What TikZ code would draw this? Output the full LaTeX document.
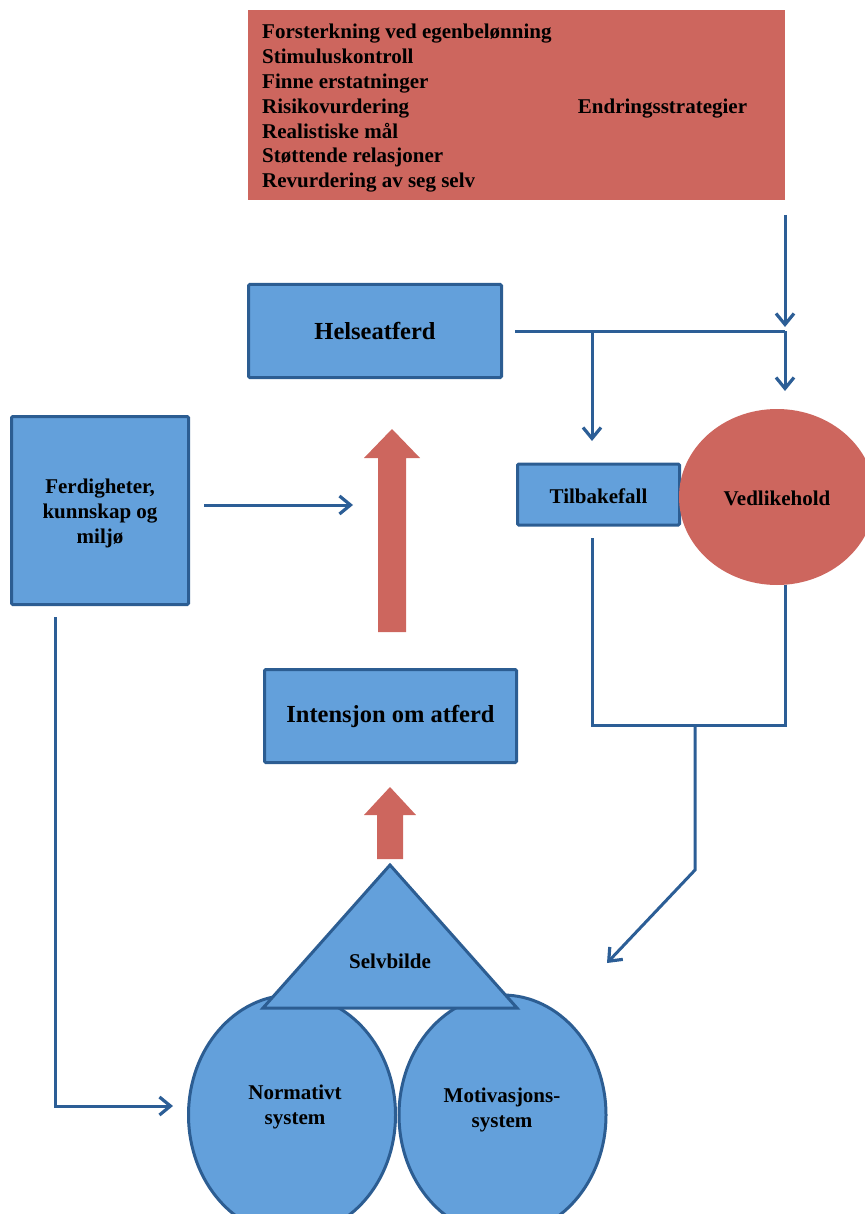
\documentclass[tikz,border=0pt]{standalone}
\usepackage{fontspec}
\setmainfont{Liberation Serif}
\usetikzlibrary{arrows.meta,shapes.geometric}
\definecolor{bfill}{RGB}{99,160,219}
\definecolor{bline}{RGB}{44,93,146}
\definecolor{rfill}{RGB}{205,102,94}
\definecolor{aline}{RGB}{44,94,150}
\begin{document}
\begin{tikzpicture}[x=1pt,y=-1pt,
  txt/.style={font=\bfseries\fontsize{21}{24.6}\selectfont, inner sep=0pt, align=center},
  bigtxt/.style={font=\bfseries\fontsize{24.5}{28}\selectfont, inner sep=0pt, align=center},
  bluebox/.style={draw=bline, line width=3pt, fill=bfill, rounded corners=1.2pt, inner sep=0pt},
  blueell/.style={ellipse, draw=bline, line width=3pt, fill=bfill, inner sep=0pt},
  conn/.style={draw=aline, line width=3pt},
  arr/.style={conn, -{Straight Barb[length=11pt,width=18pt,line width=3.2pt]}},
  fatarrow/.style={fill=rfill, draw=none}]
\useasboundingbox (0,0) rectangle (864,1214);

% top strategy box
\node[fill=rfill, minimum width=537pt, minimum height=190pt, inner sep=0pt] (strat) at (516.5,105) {};
\foreach \t [count=\i from 0] in {Forsterkning ved egenbelønning, Stimuluskontroll, Finne erstatninger, Risikovurdering, Realistiske mål, Støttende relasjoner, Revurdering av seg selv}
  \node[txt, anchor=base west] (s\i) at (262,39+24.8*\i) {\t};
\node[txt, anchor=base] (endr) at (662.5,113.4) {Endringsstrategier};

% boxes
\node[bluebox, bigtxt, minimum width=253pt, minimum height=93pt] (helse) at (375,331) {Helseatferd};
\node[bluebox, bigtxt, minimum width=252pt, minimum height=93pt] (inten) at (390.5,716) {Intensjon om atferd};
\node[bluebox, minimum width=162pt, minimum height=61pt] (tilb) at (598.5,494.5) {};
\node[txt] (tilbt) at (598.5,496.5) {Tilbakefall};
\node[bluebox, minimum width=177pt, minimum height=188pt] (ferd) at (100,510.5) {};
\node[txt] (ferdt) at (100,513.5) {Ferdigheter,\\kunnskap og\\miljø};
\node[ellipse, fill=rfill, minimum width=196pt, minimum height=176pt, inner sep=0pt] (vedl) at (777,497) {};
\node[txt] (vedlt) at (777,498) {Vedlikehold};

% bottom circles and triangle
\node[blueell, minimum width=207pt, minimum height=240pt] (norm) at (292,1115) {};
\node[blueell, minimum width=207pt, minimum height=240pt] (moti) at (502.5,1115) {};
\node[txt] (normt) at (295,1107) {Normativt\\system};
\node[txt] (motit) at (502,1110) {Motivasjons-\\system};
\draw[draw=bline, fill=bfill, line width=3pt, line join=miter] (390,865) -- (517,1008) -- (263,1008) -- cycle;
\node[txt] (selv) at (390,961) {Selvbilde};

% fat red arrows
\draw[fatarrow] (392,429) -- (420,458) -- (406,458) -- (406,632) -- (378,632) -- (378,458) -- (364,458) -- cycle;
\draw[fatarrow] (390,787) -- (416,815) -- (403,815) -- (403,859) -- (377,859) -- (377,815) -- (364,815) -- cycle;

% connector coordinates
\coordinate (a1) at (785,215);
\coordinate (a2) at (785,327);
\coordinate (h1) at (515,331);
\coordinate (jr) at (785,331);
\coordinate (jl) at (592,331);
\coordinate (v1) at (785,391);
\coordinate (tb) at (592,441);
\coordinate (b1) at (592,538);
\coordinate (b2) at (592,725);
\coordinate (b3) at (785,725);
\coordinate (b4) at (785,585);
\coordinate (m1) at (695,725);
\coordinate (m2) at (695,870);
\coordinate (m3) at (607,963);
\coordinate (f1) at (204,505);
\coordinate (f2) at (353,505);
\coordinate (g1) at (55,617);
\coordinate (g2) at (55,1106);
\coordinate (g3) at (173,1106);

\draw[arr] (a1) -- (a2);
\draw[conn] (h1) -- (jr);
\draw[arr] (jr) -- (v1);
\draw[arr] (jl) -- (tb);
\draw[conn] (b1) -- (b2) -- (b3) -- (b4);
\draw[arr] (m1) -- (m2) -- (m3);
\draw[arr] (f1) -- (f2);
\draw[arr] (g1) -- (g2) -- (g3);
\end{tikzpicture}
\end{document}
